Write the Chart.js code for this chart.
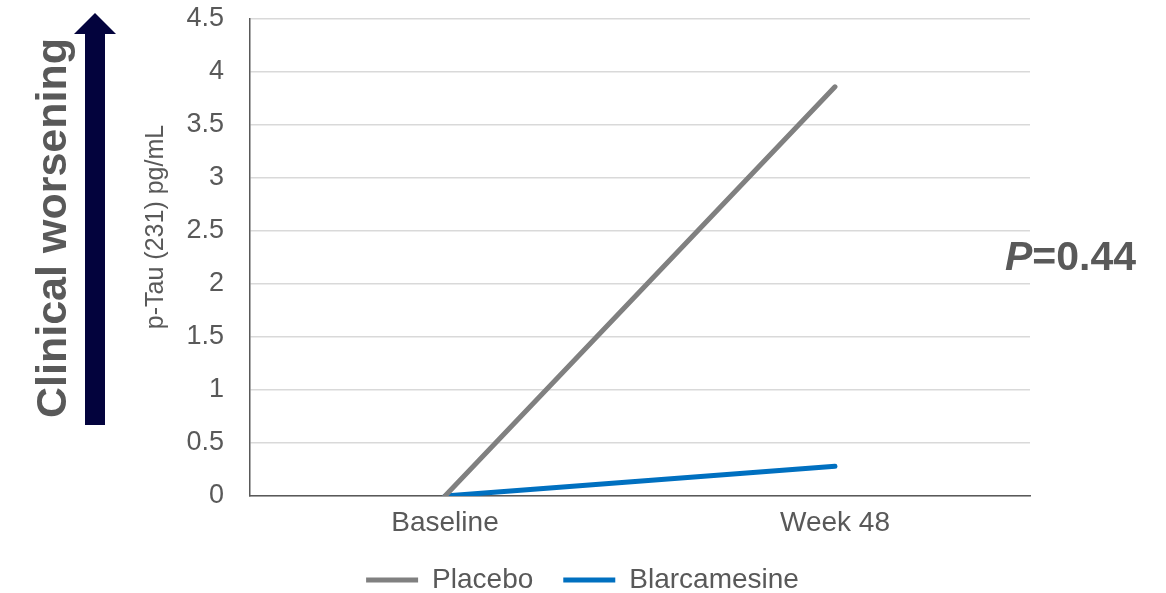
<!DOCTYPE html>
<html>
<head>
<meta charset="utf-8">
<script src="https://cdn.jsdelivr.net/npm/chart.js@4/dist/chart.umd.min.js"></script>
<style>
  html, body { margin: 0; padding: 0; background: #ffffff; }
  #wrap { width: 1166px; height: 593px; position: relative; }
</style>
</head>
<body>
<div id="wrap"><canvas id="c" width="1166" height="593"></canvas></div>
<script>
// Timepoints and change from baseline in plasma p-Tau (231), pg/mL
const categories = ['Baseline', 'Week 48'];
const placebo = [0, 3.86];
const blarcamesine = [0, 0.28];
const yTicks = { min: 0, max: 4.5, step: 0.5 };
const yTitle = 'p-Tau (231) pg/mL';
const pValueText = '=0.44';

const FONT = '"Liberation Sans", Arial, sans-serif';
const TEXT = '#595959';

// Side annotations: the "Clinical worsening" arrow, the axis title and the P value
const annotations = {
  id: 'annotations',
  afterDraw(chart) {
    const ctx = chart.ctx;
    ctx.save();

    // arrow
    ctx.fillStyle = '#03033d';
    ctx.fillRect(85, 33, 20, 392);
    ctx.beginPath();
    ctx.moveTo(74, 34);
    ctx.lineTo(95, 13);
    ctx.lineTo(116, 34);
    ctx.closePath();
    ctx.fill();

    // vertical label beside the arrow
    ctx.save();
    ctx.translate(66, 228);
    ctx.rotate(-Math.PI / 2);
    ctx.fillStyle = TEXT;
    ctx.font = 'bold 43px ' + FONT;
    ctx.textAlign = 'center';
    ctx.textBaseline = 'alphabetic';
    ctx.fillText('Clinical worsening', 0, 0);
    ctx.restore();

    // y axis title
    ctx.save();
    ctx.translate(163, 227);
    ctx.rotate(-Math.PI / 2);
    ctx.fillStyle = TEXT;
    ctx.font = '25px ' + FONT;
    ctx.textAlign = 'center';
    ctx.textBaseline = 'alphabetic';
    ctx.fillText(yTitle, 0, 0);
    ctx.restore();

    // P value
    ctx.fillStyle = TEXT;
    ctx.textBaseline = 'alphabetic';
    ctx.textAlign = 'left';
    const y = 270;
    ctx.font = 'italic bold 41px ' + FONT;
    const x0 = 1005;
    ctx.fillText('P', x0, y);
    const w = ctx.measureText('P').width;
    ctx.font = 'bold 41px ' + FONT;
    ctx.fillText(pValueText, x0 + w, y);
    ctx.restore();
  }
};

new Chart(document.getElementById('c'), {
  type: 'line',
  data: {
    labels: categories,
    datasets: [
      {
        label: 'Placebo',
        data: placebo,
        borderColor: '#808080',
        backgroundColor: '#808080',
        borderWidth: 5,
        borderCapStyle: 'round',
        pointRadius: 0,
        tension: 0
      },
      {
        label: 'Blarcamesine',
        data: blarcamesine,
        borderColor: '#0070c0',
        backgroundColor: '#0070c0',
        borderWidth: 5,
        borderCapStyle: 'round',
        pointRadius: 0,
        tension: 0
      }
    ]
  },
  options: {
    responsive: false,
    animation: false,
    layout: { padding: { left: 135, right: 136, top: 19, bottom: -11 } },
    plugins: {
      tooltip: { enabled: false },
      legend: {
        position: 'bottom',
        labels: {
          font: { family: FONT, size: 28 },
          color: TEXT,
          usePointStyle: true,
          pointStyle: 'line',
          pointStyleWidth: 52,
          boxHeight: 5,
          padding: 30
        }
      }
    },
    scales: {
      x: {
        offset: true,
        afterFit(scale) { scale.height = 40; },
        grid: { display: false, drawTicks: false },
        border: { display: true, color: '#595959', width: 1.5 },
        ticks: { font: { family: FONT, size: 28 }, color: TEXT, padding: 10 }
      },
      y: {
        min: yTicks.min,
        max: yTicks.max,
        afterFit(scale) { scale.width = 115; },
        ticks: {
          stepSize: yTicks.step,
          font: { family: FONT, size: 27 },
          color: TEXT,
          padding: 0,
          callback: (v) => String(Number(v.toFixed(2)))
        },
        grid: {
          color: '#d9d9d9',
          lineWidth: 1.5,
          drawTicks: true,
          tickLength: 26,
          tickColor: 'rgba(0,0,0,0)'
        },
        border: { display: true, color: '#595959', width: 1.5 }
      }
    }
  },
  plugins: [annotations]
});
</script>
</body>
</html>
